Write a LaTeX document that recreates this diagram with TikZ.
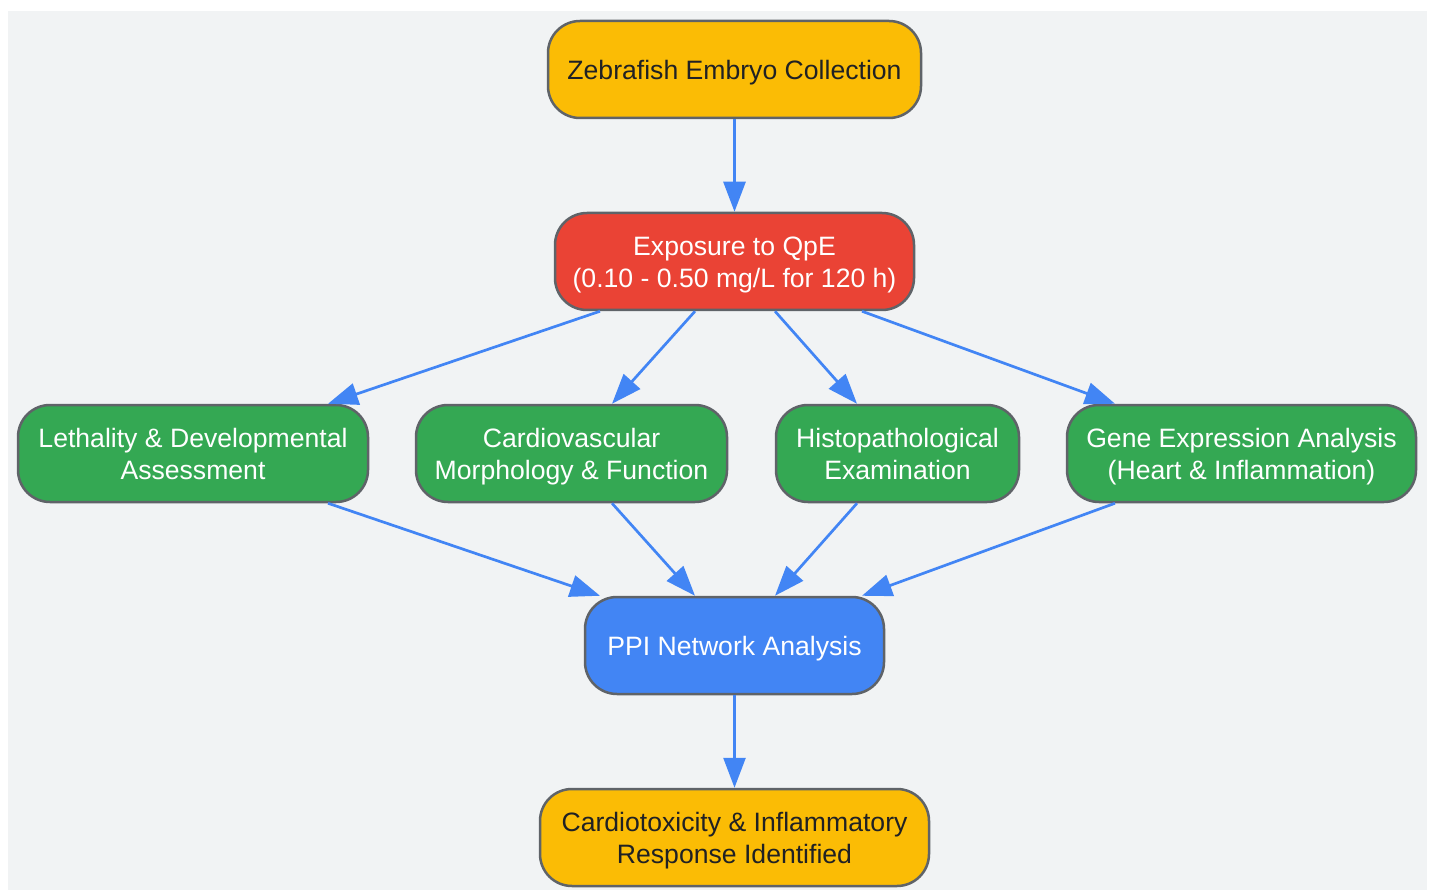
\documentclass[tikz,border=0pt]{standalone}
\usepackage{fontspec}
\setmainfont{Liberation Sans}
\usetikzlibrary{arrows.meta,calc}
\definecolor{bggray}{HTML}{F1F3F4}
\definecolor{gyellow}{HTML}{FBBC05}
\definecolor{gred}{HTML}{EA4335}
\definecolor{ggreen}{HTML}{34A853}
\definecolor{gblue}{HTML}{4285F4}
\definecolor{gborder}{HTML}{5F6368}
\definecolor{gtext}{HTML}{202124}
\newcommand\lnstrut{\rule[-6pt]{0pt}{32pt}}
\tikzset{
  box/.style={draw=gborder, line width=2.5pt, rounded corners=32pt, minimum height=97pt,
    inner sep=0pt, align=center, font=\fontsize{26.6pt}{32pt}\selectfont},
  yellowbox/.style={box, fill=gyellow, text=gtext},
  redbox/.style={box, fill=gred, text=white},
  greenbox/.style={box, fill=ggreen, text=white},
  bluebox/.style={box, fill=gblue, text=white},
  flow/.style={draw=gblue, line width=2.7pt, -{Triangle[length=30pt,width=22pt]}}
}
\begin{document}
\begin{tikzpicture}[x=1pt,y=-1pt]
\fill[white] (0,0) rectangle (1431,890);
\useasboundingbox (0,0) rectangle (1431,890);
\fill[bggray] (8,11) rectangle (1427,890);

\node[yellowbox, minimum width=373pt] (coll) at (734.5,69.5) {Zebrafish Embryo Collection\lnstrut};
\node[redbox, minimum width=359pt] (exp) at (734.5,261.5) {Exposure to QpE\lnstrut\\(0.10 - 0.50 mg/L for 120 h)\lnstrut};
\node[greenbox, minimum width=350pt] (leth) at (193,453.5) {Lethality \& Developmental\lnstrut\\Assessment\lnstrut};
\node[greenbox, minimum width=311pt] (card) at (571.5,453.5) {Cardiovascular\lnstrut\\Morphology \& Function\lnstrut};
\node[greenbox, minimum width=243pt] (hist) at (897.5,453.5) {Histopathological\lnstrut\\Examination\lnstrut};
\node[greenbox, minimum width=349pt] (gene) at (1241.5,453.5) {Gene Expression Analysis\lnstrut\\(Heart \& Inflammation)\lnstrut};
\node[bluebox, minimum width=299pt] (ppi) at (734.5,645.5) {PPI Network Analysis\lnstrut};
\node[yellowbox, minimum width=389pt] (res) at (734.5,837.5) {Cardiotoxicity \& Inflammatory\lnstrut\\Response Identified\lnstrut};

\draw[flow] (coll.south) -- (exp.north);
\draw[flow] ($(exp.south)+(-134.5,0)$) -- ($(leth.north)+(135,0)$);
\draw[flow] ($(exp.south)+(-39.5,0)$) -- ($(card.north)+(40.5,0)$);
\draw[flow] ($(exp.south)+(40.5,0)$) -- ($(hist.north)+(-40.5,0)$);
\draw[flow] ($(exp.south)+(127.5,0)$) -- ($(gene.north)+(-126.5,0)$);
\draw[flow] ($(leth.south)+(135,0)$) -- ($(ppi.north)+(-134.5,0)$);
\draw[flow] ($(card.south)+(40.5,0)$) -- ($(ppi.north)+(-39.5,0)$);
\draw[flow] ($(hist.south)+(-40.5,0)$) -- ($(ppi.north)+(40.5,0)$);
\draw[flow] ($(gene.south)+(-126.5,0)$) -- ($(ppi.north)+(127.5,0)$);
\draw[flow] (ppi.south) -- (res.north);
\end{tikzpicture}
\end{document}
